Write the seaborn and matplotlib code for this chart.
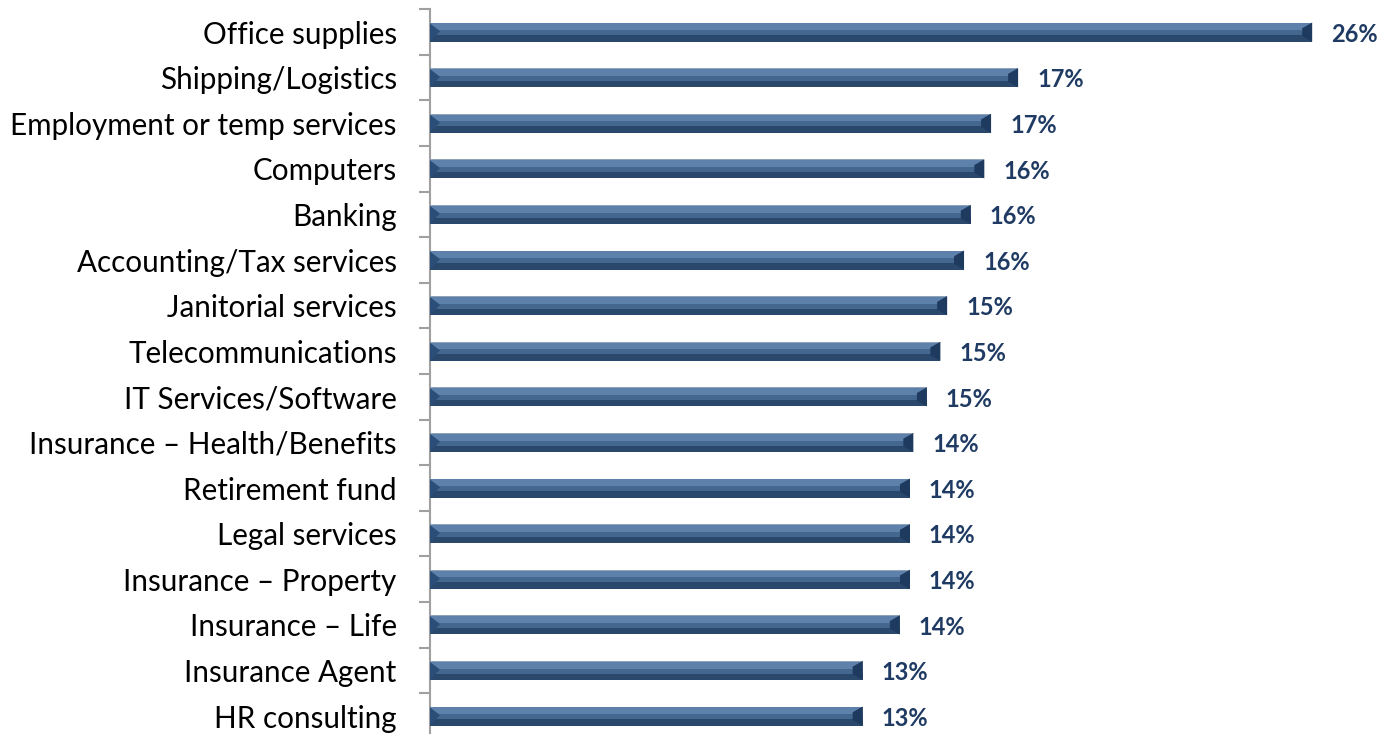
import matplotlib
matplotlib.use("Agg")
import matplotlib.pyplot as plt
from matplotlib.patches import Polygon, Rectangle
import numpy as np
import pandas as pd
import seaborn as sns

categories = [
    "Office supplies",
    "Shipping/Logistics",
    "Employment or temp services",
    "Computers",
    "Banking",
    "Accounting/Tax services",
    "Janitorial services",
    "Telecommunications",
    "IT Services/Software",
    "Insurance \u2013 Health/Benefits",
    "Retirement fund",
    "Legal services",
    "Insurance \u2013 Property",
    "Insurance \u2013 Life",
    "Insurance Agent",
    "HR consulting",
]
shares = [26.1, 17.4, 16.6, 16.4, 16.0, 15.8, 15.3, 15.1,
          14.7, 14.3, 14.2, 14.2, 14.2, 13.9, 12.8, 12.8]

df = pd.DataFrame({"category": categories, "share": shares})

sns.set_theme(style="white")
plt.rcParams["font.family"] = ["Lato", "DejaVu Sans"]

W, H = 1383, 734
fig = plt.figure(figsize=(W / 100, H / 100), dpi=100)
ax = fig.add_axes([430 / W, (H - 738.9) / H, 953 / W, 729.6 / H])

BAR_H = 0.42
sns.barplot(data=df, x="share", y="category", orient="h", ax=ax,
            color="#44678F", width=BAR_H, saturation=1, edgecolor="none",
            linewidth=0)

ax.set_xlim(0, 953 / 33.8)
ax.set_ylim(len(categories) - 0.5, -0.5)

# pixel -> data scale factor for the bevel decorations
px_x = (ax.get_xlim()[1] - ax.get_xlim()[0]) / 953.0

light = "#5E81AB"
dark = "#2A476C"
edge = "#1F3A5F"
rim = "#8FA2B8"

for bar in ax.patches[:len(categories)]:
    x0 = bar.get_x()
    w = bar.get_width()
    y0 = bar.get_y()          # top of the bar (y axis is inverted)
    h = bar.get_height()
    y_top, y_bot = y0, y0 + h
    bev = 10 * px_x
    # light upper band
    ax.add_patch(Rectangle((x0, y_top), w, h * 0.40, facecolor=light,
                           edgecolor="none", zorder=3))
    # dark lower band
    ax.add_patch(Rectangle((x0, y_bot - h * 0.34), w, h * 0.34,
                           facecolor=dark, edgecolor="none", zorder=3))
    # thin rim along the top edge
    ax.add_patch(Rectangle((x0, y_top), w, h * 0.05, facecolor=rim,
                           edgecolor="none", zorder=4))
    # right end bevel
    ax.add_patch(Polygon([(x0 + w, y_top), (x0 + w, y_bot),
                          (x0 + w - bev, y_bot - h * 0.3),
                          (x0 + w - bev, y_top + h * 0.3)],
                         closed=True, facecolor=edge, edgecolor="none",
                         zorder=5))
    # left end bevel
    ax.add_patch(Polygon([(x0, y_top + h * 0.05), (x0, y_bot),
                          (x0 + bev, y_top + h * 0.45)],
                         closed=True, facecolor="#2B4E79", edgecolor="none",
                         zorder=5))
    ax.text(x0 + w + 19 * px_x, y0 + h / 2 + 0.05, f"{w:.0f}%",
            va="center", ha="left", fontsize=17, fontweight="bold",
            color="#1F3B63", zorder=6)

# category labels at bar centres, tick marks at slot boundaries
n = len(categories)
ax.set_yticks(np.arange(n), labels=categories, minor=True)
ax.set_yticks(np.arange(-0.5, n, 1.0), labels=[""] * (n + 1))
ax.tick_params(axis="y", which="minor", length=0, pad=24, labelsize=21.3,
               labelcolor="black")
ax.tick_params(axis="y", which="major", length=8, width=1.5,
               color="#A0A0A0", direction="out", left=True)
ax.set_xticks([])
ax.set_xlabel("")
ax.set_ylabel("")

for s in ["top", "right", "bottom"]:
    ax.spines[s].set_visible(False)
ax.spines["left"].set_color("#A0A0A0")
ax.spines["left"].set_linewidth(1.5)

fig.savefig("out.png", dpi=100)
